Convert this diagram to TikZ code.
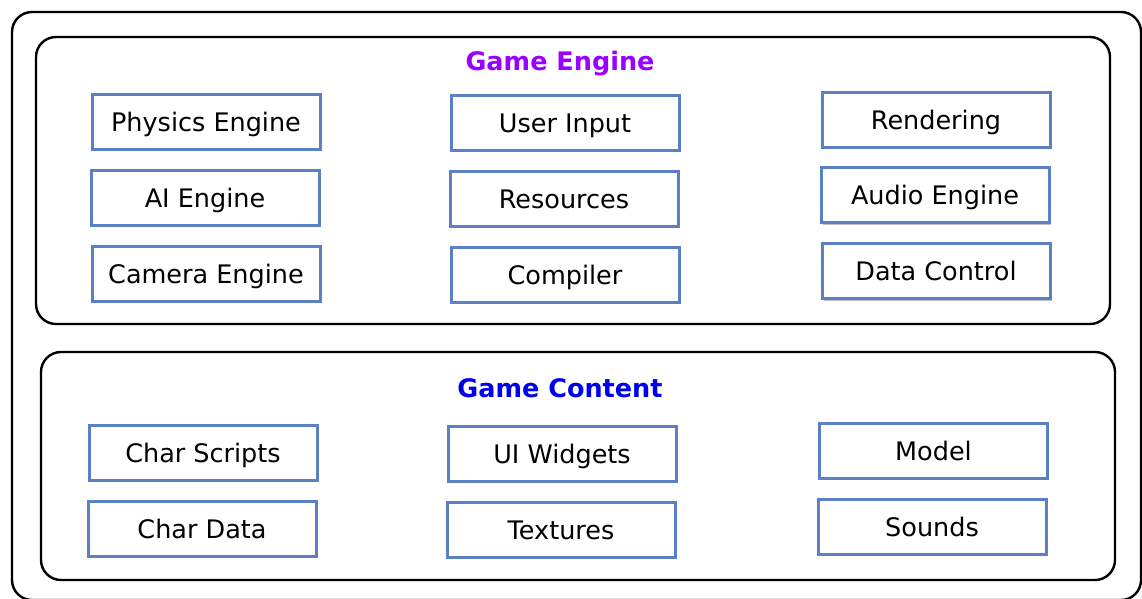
\documentclass[tikz,border=0pt]{standalone}
\usepackage{fontspec}
\setmainfont{DejaVu Sans}
\usetikzlibrary{shadows}

\definecolor{boxblue}{RGB}{91,128,198}
\definecolor{enginepurple}{RGB}{153,0,255}
\definecolor{contentblue}{RGB}{0,0,238}

\tikzset{
  part/.style={rectangle, draw=boxblue, line width=3pt, fill=white,
    minimum width=228pt, minimum height=55pt, inner sep=0pt,
    font=\fontsize{25.5}{30}\selectfont, text height=21pt, text depth=2pt,
    drop shadow={shadow xshift=1.5pt, shadow yshift=-2pt, opacity=0.25, fill=black}},
  panel/.style={draw=black, line width=2.4pt, rounded corners=20pt},
  heading/.style={font=\fontsize{25.5}{30}\selectfont\bfseries}
}

\begin{document}
\begin{tikzpicture}[x=1pt, y=-1pt]
  \useasboundingbox (0,0) rectangle (1142,598);
  % \draw[help lines, step=50] (0,0) grid (1142,598);

  \draw[panel] (12,12) rectangle (1141,600);

  % engine part
  \draw[panel] (36,37) rectangle (1110,324);
  \node [heading, text=enginepurple] (engine) at (560,64) {Game Engine};

  \node [part] (physics)   at (206,121.5) {Physics Engine};
  \node [part] (input)     at (565,122.5) {User Input};
  \node [part] (rendering) at (936,119.5) {Rendering};

  \node [part] (ai)        at (205,197.5) {AI Engine};
  \node [part] (resources) at (564,198.5) {Resources};
  \node [part] (audio)     at (935,195)   {Audio Engine};

  \node [part] (camera)    at (206,273.5) {Camera Engine};
  \node [part] (compiler)  at (565,274.5) {Compiler};
  \node [part] (datactrl)  at (936,271)   {Data Control};

  % content part
  \draw[panel] (41,352) rectangle (1115,580);
  \node [heading, text=contentblue] (content) at (560,388) {Game Content};

  \node [part] (scripts)   at (203,452.5) {Char Scripts};
  \node [part] (widgets)   at (562,453.5) {UI Widgets};
  \node [part] (model)     at (933.5,450.5) {Model};

  \node [part] (chardata)  at (202,528.5) {Char Data};
  \node [part] (textures)  at (561,529.5) {Textures};
  \node [part] (sounds)    at (932,526.5) {Sounds};
\end{tikzpicture}
\end{document}
